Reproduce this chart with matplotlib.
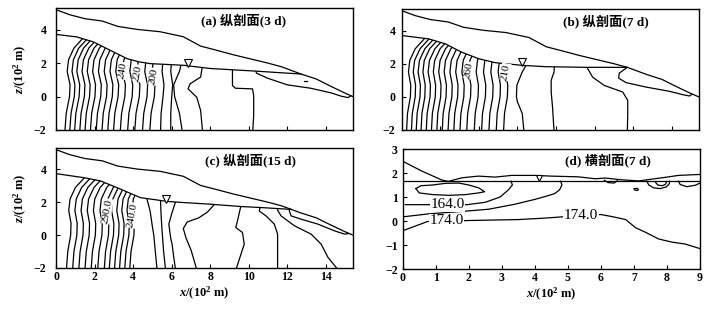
import matplotlib
matplotlib.use('Agg')
import matplotlib.pyplot as plt
from matplotlib.patches import Polygon

plt.rcParams['font.family'] = ['Liberation Serif', 'Noto Sans CJK SC']
plt.rcParams['mathtext.fontset'] = 'custom'
plt.rcParams['mathtext.rm'] = 'Liberation Serif:bold'
plt.rcParams['mathtext.it'] = 'Liberation Serif:italic:bold'
plt.rcParams['mathtext.bf'] = 'Liberation Serif:bold'
plt.rcParams['axes.unicode_minus'] = True

# ---------------- data: longitudinal sections ----------------
TOP_X = [0.0, 0.7, 1.5, 2.4, 3.2, 4.2, 5.4, 6.6, 7.5, 8.3, 9.2, 10.1, 11.0, 11.7, 12.7, 13.5, 14.1, 14.6, 15.0, 15.4]
TOP_Z = [5.2, 4.9, 4.66, 4.52, 4.2, 4.02, 3.88, 3.58, 3.02, 2.78, 2.5, 2.25, 2.0, 1.78, 1.35, 1.05, 0.7, 0.42, 0.2, 0.0]

IF_A_X = [0.0, 1.08, 1.94, 2.81, 3.68, 4.3, 4.9, 5.8, 6.63, 8.0, 9.2, 10.4, 11.6, 12.7]
IF_A_Z = [3.72, 3.57, 3.27, 2.77, 2.27, 2.08, 1.97, 1.92, 1.87, 1.68, 1.6, 1.52, 1.43, 1.35]
IF_B_X = [0.0, 1.39, 2.26, 3.1, 3.99, 4.86, 6.25, 7.47, 9.6, 11.7]
IF_B_Z = [3.7, 3.5, 3.2, 2.7, 2.3, 2.06, 1.9, 1.82, 1.78, 1.78]
IF_C_X = [0.0, 1.42, 2.3, 3.16, 4.38, 5.77, 6.63, 8.02, 9.58, 10.6, 12.2]
IF_C_Z = [3.74, 3.5, 3.3, 2.89, 2.28, 2.05, 1.98, 1.88, 1.74, 1.68, 1.565]

ZLEV = [-2.1, -1.0, 0.0, 0.7, 1.5, 2.2, 2.9, 3.6, 4.3]

A_LINES = [
    [0.46, 0.53, 0.70, 0.73, 0.58, 0.65, 0.93, 1.48, 2.08],
    [0.71, 0.78, 0.95, 0.98, 0.83, 0.90, 1.18, 1.73, 2.33],
    [0.96, 1.03, 1.20, 1.23, 1.08, 1.15, 1.43, 1.98, 2.58],
    [1.23, 1.30, 1.47, 1.50, 1.35, 1.42, 1.70, 2.25, 2.85],
    [1.50, 1.57, 1.74, 1.77, 1.62, 1.69, 1.97, 2.52, 3.12],
    [1.78, 1.85, 2.02, 2.05, 1.90, 1.97, 2.25, 2.80, 3.40],
    [2.08, 2.15, 2.32, 2.35, 2.20, 2.27, 2.55, 3.10, 3.70],
    [2.38, 2.45, 2.62, 2.65, 2.50, 2.57, 2.85, 3.40, 4.00],
    [2.68, 2.75, 2.92, 2.95, 2.80, 2.87, 3.15, 3.70, 4.30],
    [2.98, 3.05, 3.22, 3.25, 3.10, 3.17, 3.45, 4.00, 4.60],
    [3.33, 3.40, 3.57, 3.60, 3.45, 3.52, 3.80, 4.35, 4.95],
    [3.71, 3.78, 3.95, 3.98, 3.83, 3.90, 4.18, 4.73, 5.33],
    [4.08, 4.15, 4.32, 4.35, 4.20, 4.27, 4.55, 5.10, 5.70],
    [4.48, 4.55, 4.72, 4.75, 4.60, 4.67, 4.95, 5.50, 6.10],
    [4.86, 4.93, 5.10, 5.13, 4.98, 5.05, 5.33, 5.88, 6.48],
    [5.42, 5.45, 5.55, 5.60, 5.50, 5.55, 5.75, 6.10, 6.50],
    [5.95, 5.95, 6.00, 6.05, 5.95, 6.00, 6.20, 6.50, 6.80],
    [6.55, 6.40, 6.15, 6.10, 6.40, 6.55, 6.70, 6.90, 7.10],
]
A_EXTRA = [
    ([7.6, 7.6, 7.5, 6.95, 6.85, 7.3, 7.5, 7.6], [2.2, 1.9, 1.17, 0.76, 0.46, -0.04, -0.84, -2.1]),
    ([9.15, 9.15, 9.3, 10.19, 10.25, 10.25, 10.2], [1.9, 0.66, 0.5, 0.46, 0.06, -1.14, -2.1]),
    ([10.3, 10.4, 10.97, 12.0, 13.2, 14.27, 14.8, 15.14, 15.45], [1.7, 1.4, 1.1, 0.7, 0.5, 0.22, 0.02, -0.06, 0.15]),
    ([12.85, 13.0], [0.96, 0.96]),
]
A_LABELS = [('240', 3.45, 1.55), ('220', 4.22, 1.4), ('200', 5.04, 1.2)]
A_TRI = (6.86, 1.98)

B_LINES = [
    [0.25, 0.30, 0.45, 0.47, 0.35, 0.42, 0.70, 1.25, 1.85],
    [0.50, 0.55, 0.70, 0.72, 0.60, 0.67, 0.95, 1.50, 2.10],
    [0.75, 0.80, 0.95, 0.97, 0.85, 0.92, 1.20, 1.75, 2.35],
    [1.00, 1.05, 1.20, 1.22, 1.10, 1.17, 1.45, 2.00, 2.60],
    [1.27, 1.32, 1.47, 1.49, 1.37, 1.44, 1.72, 2.27, 2.87],
    [1.54, 1.59, 1.74, 1.76, 1.64, 1.71, 1.99, 2.54, 3.14],
    [1.82, 1.87, 2.02, 2.04, 1.92, 1.99, 2.27, 2.82, 3.42],
    [2.10, 2.15, 2.30, 2.32, 2.20, 2.27, 2.55, 3.10, 3.70],
    [2.40, 2.45, 2.60, 2.62, 2.50, 2.57, 2.85, 3.40, 4.00],
    [2.70, 2.75, 2.90, 2.92, 2.80, 2.87, 3.15, 3.70, 4.30],
    [3.02, 3.07, 3.22, 3.24, 3.12, 3.19, 3.47, 4.02, 4.62],
    [3.37, 3.42, 3.57, 3.59, 3.47, 3.54, 3.82, 4.37, 4.97],
    [3.76, 3.81, 3.96, 3.98, 3.86, 3.93, 4.21, 4.76, 5.36],
    [4.14, 4.19, 4.34, 4.36, 4.24, 4.31, 4.59, 5.14, 5.74],
    [4.52, 4.57, 4.72, 4.74, 4.62, 4.69, 4.97, 5.52, 6.12],
    [4.90, 4.95, 5.10, 5.12, 5.00, 5.07, 5.35, 5.90, 6.50],
    [5.28, 5.33, 5.48, 5.50, 5.38, 5.45, 5.73, 6.28, 6.88],
]
B_EXTRA = [
    ([6.7, 6.5, 6.25, 5.97, 5.95, 6.0, 6.25, 6.34], [2.4, 2.0, 1.5, 0.7, 0.0, -0.3, -1.0, -2.1]),
    ([7.95, 7.92, 7.9, 7.75, 7.75, 7.82, 7.9], [2.2, 2.0, 1.5, 1.0, 0.3, -0.6, -2.1]),
    ([9.6, 9.63, 9.9, 10.5, 11.46, 11.72, 11.72, 11.7], [2.2, 1.73, 1.19, 0.69, 0.29, -0.21, -1.1, -2.1]),
    ([11.8, 11.63, 11.28, 11.25, 11.63, 12.67, 13.9, 14.58, 14.93, 15.15], [1.9, 1.72, 1.43, 1.13, 0.86, 0.59, 0.33, 0.13, 0.05, 0.25]),
]
B_LABELS = [('260', 3.47, 1.6), ('210', 5.38, 1.5)]
B_TRI = (6.25, 2.1)

C_LINES = [
    [0.54, 0.61, 0.76, 0.78, 0.66, 0.73, 1.01, 1.56, 2.16],
    [0.86, 0.93, 1.08, 1.10, 0.98, 1.05, 1.33, 1.88, 2.48],
    [1.18, 1.25, 1.40, 1.42, 1.30, 1.37, 1.65, 2.20, 2.80],
    [1.50, 1.57, 1.72, 1.74, 1.62, 1.69, 1.97, 2.52, 3.12],
    [1.82, 1.89, 2.04, 2.06, 1.94, 2.01, 2.29, 2.84, 3.44],
    [2.16, 2.23, 2.38, 2.40, 2.28, 2.35, 2.63, 3.18, 3.78],
    [2.50, 2.57, 2.72, 2.74, 2.62, 2.69, 2.97, 3.52, 4.12],
    [2.76, 2.83, 2.98, 3.00, 2.88, 2.95, 3.23, 3.78, 4.38],
    [3.03, 3.10, 3.25, 3.27, 3.15, 3.22, 3.50, 4.05, 4.65],
    [3.29, 3.36, 3.51, 3.53, 3.41, 3.48, 3.76, 4.31, 4.91],
    [3.56, 3.63, 3.78, 3.80, 3.68, 3.75, 4.03, 4.58, 5.18],
    [3.82, 3.89, 4.04, 4.06, 3.94, 4.01, 4.29, 4.84, 5.44],
]
C_EXTRA = [
    ([4.6, 4.72, 4.88, 5.0, 5.07, 5.15, 5.24], [2.6, 2.18, 1.47, 0.5, 0.0, -1.0, -2.1]),
    ([5.4, 5.42, 5.45, 5.5, 5.58, 5.68], [2.6, 2.1, 1.2, 0.26, -1.0, -2.1]),
    ([6.3, 6.2, 6.0, 5.85, 5.95, 6.02, 6.1, 6.2], [2.5, 2.04, 1.3, 0.67, -0.2, -0.55, -1.3, -2.1]),
    ([8.2, 8.2, 7.85, 7.4, 6.8, 6.6, 6.75, 7.0, 7.3], [2.2, 1.85, 1.4, 1.05, 0.8, 0.4, -0.2, -0.9, -2.1]),
    ([9.58, 9.58, 9.41, 9.32, 9.67, 9.76, 9.33], [2.0, 1.74, 0.87, 0.46, 0.16, -0.55, -2.1]),
    ([10.63, 10.54, 10.89, 11.32, 11.49, 11.49], [1.9, 1.47, 1.17, 0.67, 0.06, -2.1]),
    ([11.5, 11.49, 11.67, 12.36, 13.23, 13.75, 14.1, 14.62], [1.9, 1.52, 1.17, 0.57, 0.06, -0.55, -1.35, -2.1]),
    ([12.1, 12.1, 12.19, 12.71, 13.58, 14.44, 14.97, 15.3, 15.5], [1.7, 1.47, 1.17, 0.97, 0.67, 0.26, 0.06, 0.12, 0.3]),
]
C_LABELS = [('290.0', 2.64, 1.45), ('240.0', 3.98, 1.2)]
C_TRI = (5.7, 2.2)

# ---------------- data: cross section (d) ----------------
D_WATER_X = [0.0, 9.0]
D_WATER_Z = [1.66, 1.66]
D_TOP_X = [0.0, 0.58, 1.18, 1.38, 1.79, 2.29, 2.8, 3.3, 4.0, 4.5, 5.32, 5.83, 6.13, 6.6, 7.14, 7.85, 8.35, 9.0]
D_TOP_Z = [2.49, 2.08, 1.71, 1.65, 1.8, 1.87, 1.83, 1.9, 1.9, 1.87, 1.84, 1.76, 1.79, 1.72, 1.67, 1.8, 1.9, 1.94]
D_LINES = [
    ([0.4, 0.55, 0.9, 1.3, 1.7, 2.0, 2.3, 2.48, 2.3, 1.9, 1.4, 0.9, 0.5, 0.4],
     [1.35, 1.47, 1.5, 1.57, 1.58, 1.5, 1.38, 1.22, 1.17, 1.1, 1.07, 1.1, 1.17, 1.35]),
    ([0.08, 0.35, 1.95, 2.5, 2.95, 3.2, 3.32, 3.28], [0.68, 0.68, 0.68, 0.78, 1.0, 1.3, 1.5, 1.66]),
    ([0.05, 0.8, 1.8, 2.6, 3.4, 4.0, 4.31, 4.6, 4.75, 4.82, 4.78],
     [0.18, 0.3, 0.4, 0.49, 0.7, 0.9, 1.02, 1.14, 1.3, 1.5, 1.66]),
    ([0.05, 0.6, 0.75, 2.0, 3.5, 4.3, 4.9, 6.0, 6.35, 6.75, 7.05, 7.35, 7.75, 8.15, 8.55, 9.0],
     [-0.38, -0.1, -0.02, 0.02, 0.06, 0.12, 0.18, 0.27, 0.18, 0.06, -0.28, -0.47, -0.75, -0.88, -0.96, -1.15]),
    ([7.39, 7.45, 7.6, 7.8, 7.98, 8.07, 8.08], [1.66, 1.5, 1.38, 1.35, 1.42, 1.55, 1.66]),
    ([7.65, 7.72, 7.85, 7.95, 7.98], [1.62, 1.5, 1.47, 1.52, 1.6]),
    ([8.35, 8.4, 8.6, 8.86, 8.98], [1.66, 1.52, 1.43, 1.49, 1.57]),
    ([6.1, 6.22, 6.4, 6.5], [1.7, 1.6, 1.58, 1.68]),
    ([7.0, 7.1, 7.14, 7.07, 7.02], [1.35, 1.36, 1.3, 1.27, 1.3]),
]
D_LABELS = [('164.0', 1.36, 0.68), ('174.0', 1.33, 0.0), ('174.0', 5.4, 0.24)]
D_TRI = (4.13, 1.8)

TITLES = ['(a) 纵剖面(3 d)', '(b) 纵剖面(7 d)', '(c) 纵剖面(15 d)', '(d) 横剖面(7 d)']
LONG_XTICKS = [0, 2, 4, 6, 8, 10, 12, 14]
LONG_YTICKS = [-2, 0, 2, 4]
D_XTICKS = [0, 1, 2, 3, 4, 5, 6, 7, 8, 9]
D_YTICKS = [-2, -1, 0, 1, 2, 3]

LW = 0.9
fig = plt.figure(figsize=(7.09, 3.14), dpi=100)
fig.patch.set_facecolor('white')

ax_a = fig.add_axes([56/709, 1-130/314, 297/709, 122/314])
ax_b = fig.add_axes([401.7/709, 1-130/314, 297/709, 121/314])
ax_c = fig.add_axes([56/709, 1-268/314, 297/709, 120/314])
ax_d = fig.add_axes([402.7/709, 1-269/314, 297.3/709, 120/314])


def style_axes(ax, xticks, yticks, xlabels, ypad):
    ax.set_xticks(xticks)
    ax.set_yticks(yticks)
    ax.tick_params(direction='in', length=3, width=0.8, labelsize=8.5, pad=ypad)
    ax.tick_params(axis='x', pad=2.5)
    if not xlabels:
        ax.set_xticklabels([])
    for lab in ax.get_xticklabels() + ax.get_yticklabels():
        lab.set_fontweight('bold')
    for s in ax.spines.values():
        s.set_linewidth(1.0)


def draw_long(ax, if_x, if_z, lines, extra, labels, tri, title, title_x):
    ax.set_xlim(0, 15.4)
    ax.set_ylim(-2, 5.3)
    ax.plot(TOP_X, TOP_Z, color='black', lw=LW)
    ax.plot(if_x, if_z, color='black', lw=LW)
    verts = list(zip(if_x, if_z))
    verts += [(x, z) for x, z in zip(TOP_X, TOP_Z) if x > if_x[-1]]
    verts += [(15.4, -2.0), (0.0, -2.0)]
    clip = Polygon(verts, closed=True, fill=False, lw=0, edgecolor='none')
    ax.add_patch(clip)
    for xs in lines:
        ln, = ax.plot(xs, ZLEV, color='black', lw=LW)
        ln.set_clip_path(clip)
    for xs, zs in extra:
        ln, = ax.plot(xs, zs, color='black', lw=LW)
        ln.set_clip_path(clip)
    for txt, x, z in labels:
        ax.text(x, z, txt, rotation=80, fontsize=8, ha='center', va='center',
                bbox=dict(fc='white', ec='none', pad=0.2), zorder=5)
    ax.plot([tri[0]], [tri[1]], marker='v', ms=6, mfc='white', mec='black', mew=0.8, zorder=6)
    ax.text(title_x, 0.89, title, transform=ax.transAxes, fontsize=9.5, fontweight='bold',
            ha='center', va='center')


draw_long(ax_a, IF_A_X, IF_A_Z, A_LINES, A_EXTRA, A_LABELS, A_TRI, TITLES[0], 0.63)
draw_long(ax_b, IF_B_X, IF_B_Z, B_LINES, B_EXTRA, B_LABELS, B_TRI, TITLES[1], 0.687)
draw_long(ax_c, IF_C_X, IF_C_Z, C_LINES, C_EXTRA, C_LABELS, C_TRI, TITLES[2], 0.655)

style_axes(ax_a, LONG_XTICKS, LONG_YTICKS, False, 7)
style_axes(ax_b, LONG_XTICKS, LONG_YTICKS, False, 4.5)
style_axes(ax_c, LONG_XTICKS, LONG_YTICKS, True, 7)

# panel d
ax_d.set_xlim(0, 9)
ax_d.set_ylim(-2, 3)
ax_d.plot(D_WATER_X, D_WATER_Z, color='black', lw=LW)
ax_d.plot(D_TOP_X, D_TOP_Z, color='black', lw=LW)
for xs, zs in D_LINES:
    ax_d.plot(xs, zs, color='black', lw=LW)
for txt, x, z in D_LABELS:
    ax_d.text(x, z, txt, fontsize=11, ha='center', va='center',
              bbox=dict(fc='white', ec='none', pad=0.3), zorder=5)
ax_d.plot([D_TRI[0]], [D_TRI[1]], marker='v', ms=4.5, mfc='white', mec='black', mew=0.8, zorder=6)
ax_d.text(0.69, 0.9, TITLES[3], transform=ax_d.transAxes, fontsize=9.5, fontweight='bold',
          ha='center', va='center')
style_axes(ax_d, D_XTICKS, D_YTICKS, True, 3.5)

# axis labels
for ax, yc in [(ax_a, 0.5), (ax_c, 0.58)]:
    ax.text(-0.121, yc, r'$z$/(10$^{2}$ m)', transform=ax.transAxes, rotation=90,
            fontsize=9, fontweight='bold', ha='center', va='center')
for ax in [ax_c, ax_d]:
    ax.text(0.5, -0.21, r'$x$/(10$^{2}$ m)', transform=ax.transAxes,
            fontsize=9, fontweight='bold', ha='center', va='center')

fig.savefig('out.png', dpi=100, facecolor='white')
